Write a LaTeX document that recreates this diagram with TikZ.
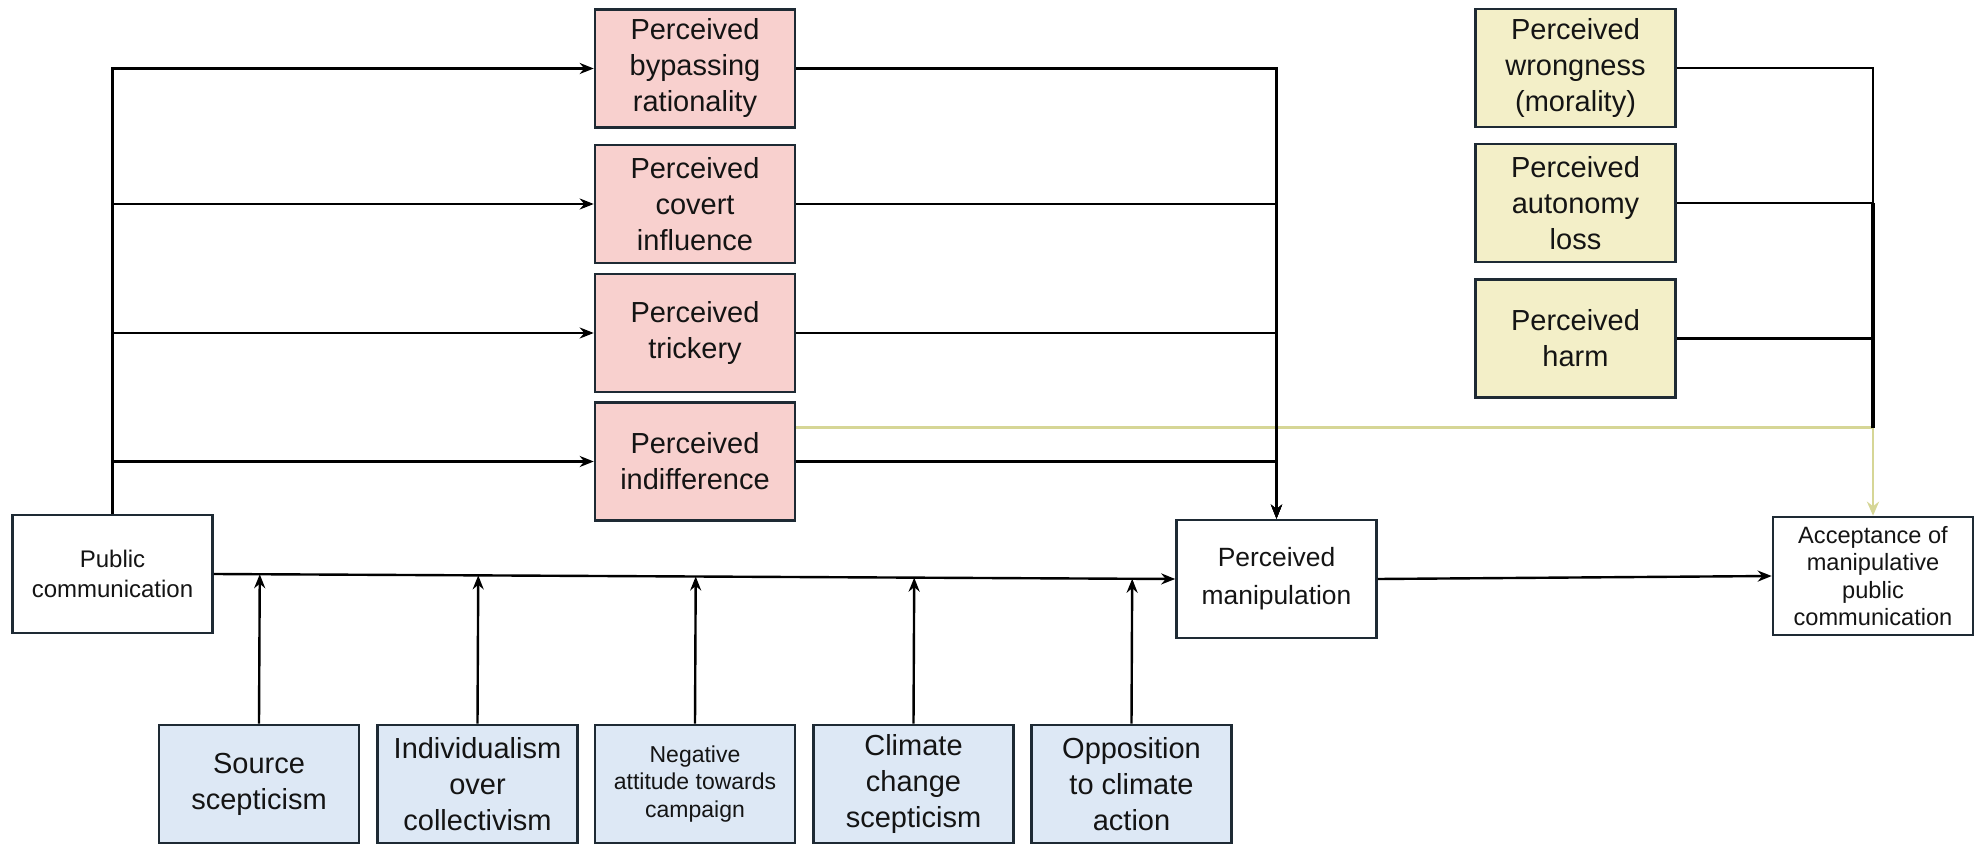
\documentclass[tikz,border=0pt]{standalone}
\usepackage{fontspec}
\setmainfont{Liberation Sans}
\usetikzlibrary{arrows.meta,calc}
\definecolor{pinkf}{RGB}{248,208,206}
\definecolor{yellf}{RGB}{243,239,200}
\definecolor{bluef}{RGB}{221,232,245}
\definecolor{bordc}{RGB}{30,42,52}
\definecolor{txtc}{RGB}{20,20,20}
\definecolor{ylin}{RGB}{214,214,150}
\definecolor{yhead}{RGB}{240,236,170}
\begin{document}
\begin{tikzpicture}[x=0.5pt,y=-0.5pt,
  bx/.style={draw=bordc,line width=1.3pt,inner sep=0pt,align=center,text=txtc,minimum width=100pt,minimum height=59pt},
  pk/.style={bx,fill=pinkf,font=\fontsize{14.5}{18}\selectfont},
  yl/.style={bx,fill=yellf,font=\fontsize{14.5}{18}\selectfont},
  bl/.style={bx,fill=bluef,font=\fontsize{14.5}{18}\selectfont},
  wh/.style={bx,fill=white},
  conn/.style={line width=1.2pt,draw=black},
  arr/.style={conn,-{Stealth[length=7pt,width=5.5pt]}},
  yarr/.style={draw=ylin,line width=1.3pt,-{Stealth[length=7pt,width=6pt,fill=yhead]}}
]
\useasboundingbox (0,0) rectangle (1977,850);
\fill[white] (0,0) rectangle (1977,850);

% pink mediators
\node[pk] (p1) at (695,68.5) {Perceived\\bypassing\\rationality};
\node[pk] (p2) at (695,204) {Perceived\\covert\\influence};
\node[pk] (p3) at (695,333) {Perceived\\trickery};
\node[pk] (p4) at (695,461.5) {Perceived\\indifference};

% yellow boxes
\node[yl] (y1) at (1575.5,68) {Perceived\\wrongness\\(morality)};
\node[yl] (y2) at (1575.5,203) {Perceived\\autonomy\\loss};
\node[yl] (y3) at (1575.5,338.5) {Perceived\\harm};

% white boxes
\node[wh,font=\fontsize{12}{15}\selectfont] (pc) at (112.5,574) {Public\\communication};
\node[wh,font=\fontsize{13.2}{19}\selectfont] (pm) at (1276.5,579) {Perceived\\manipulation};
\node[wh,font=\fontsize{11.8}{13.8}\selectfont] (acc) at (1873,576) {Acceptance of\\manipulative\\public\\communication};

% blue moderators
\node[bl] (b1) at (259,784) {Source\\scepticism};
\node[bl] (b2) at (477.5,784) {Individualism\\over\\collectivism};
\node[bl,font=\fontsize{11.5}{13.8}\selectfont] (b3) at (695,784) {Negative\\attitude towards\\campaign};
\node[bl] (b4) at (913.5,784) {Climate\\change\\scepticism};
\node[bl] (b5) at (1131.5,784) {Opposition\\to climate\\action};

% right collector point
\path (acc.north) ++(0,-88) coordinate (rc);

% yellow path
\draw[yarr] (p4.east |- rc) -- (rc) -- (acc.north);

% public communication to mediators
\draw[arr] (pc.north) |- (p1.west);
\draw[arr] (pc.north) |- (p2.west);
\draw[arr] (pc.north) |- (p3.west);
\draw[arr] (pc.north) |- (p4.west);

% mediators to perceived manipulation
\draw[arr] (p1.east) -| (pm.north);
\draw[arr] (p2.east) -| (pm.north);
\draw[arr] (p3.east) -| (pm.north);
\draw[arr] (p4.east) -| (pm.north);
\draw[line width=1.7pt,shorten >=6pt] (pm.north |- p2.east) -- (pm.north);

% main path
\draw[arr] (pc.east) -- (pm.west);
\draw[arr] (pm.east) -- (acc.west);

% moderators
\foreach \b in {b1,b2,b3,b4,b5}
  \draw[arr] (\b.north) -- ($(pc.east)!(\b.north)!(pm.west)$);

% yellow boxes to collector
\draw[conn] (y1.east) -| (rc);
\draw[conn] (y2.east) -| (rc);
\draw[conn] (y3.east) -| (rc);
\draw[line width=1.7pt] (rc |- y2.east) -- (rc);
\end{tikzpicture}
\end{document}
